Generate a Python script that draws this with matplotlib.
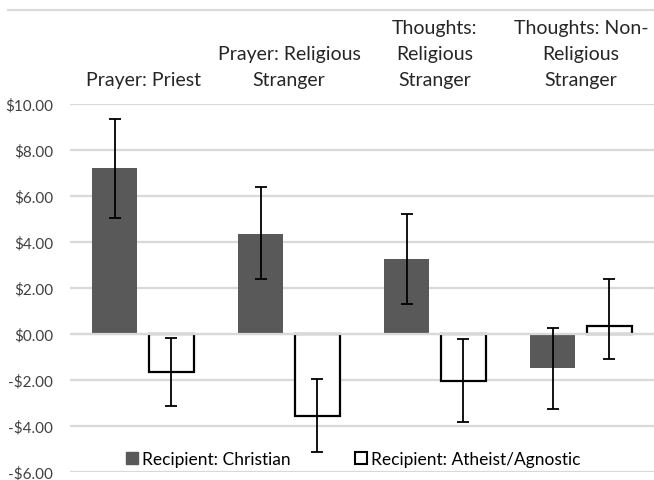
import numpy as np
import matplotlib.pyplot as plt
from matplotlib.patches import Patch
from matplotlib.lines import Line2D

plt.rcParams['font.family'] = ['Lato', 'DejaVu Sans']

categories = ['Prayer: Priest', 'Prayer: Religious\nStranger',
              'Thoughts:\nReligious\nStranger', 'Thoughts: Non-\nReligious\nStranger']
christian = [7.20, 4.35, 3.26, -1.49]
christian_hi = [9.33, 6.37, 5.23, 0.25]
christian_lo = [5.03, 2.38, 1.30, -3.26]
atheist = [-1.67, -3.55, -2.03, 0.35]
atheist_hi = [-0.16, -1.94, -0.22, 2.41]
atheist_lo = [-3.11, -5.11, -3.81, -1.07]
yticks = [10, 8, 6, 4, 2, 0, -2, -4, -6]

fig = plt.figure(figsize=(6.54, 4.81), dpi=100)
ax = fig.add_axes([70 / 654, 1 - 473 / 481, 584 / 654, 368 / 481])

x = np.arange(len(categories))
w = 0.31
off = 0.195

c = np.array(christian)
a = np.array(atheist)
ax.bar(x - off, c, w, color='#595959', zorder=2)
ax.bar(x + off, a, w, facecolor='white', edgecolor='black', linewidth=1.6, zorder=2)

ax.errorbar(x - off, c, yerr=[c - np.array(christian_lo), np.array(christian_hi) - c],
            fmt='none', ecolor='black', elinewidth=1.3, capsize=4.5, capthick=1.3, zorder=3)
ax.errorbar(x + off, a, yerr=[a - np.array(atheist_lo), np.array(atheist_hi) - a],
            fmt='none', ecolor='black', elinewidth=1.3, capsize=4.5, capthick=1.3, zorder=3)

ax.axhline(0, color='#d9d9d9', linewidth=1.6, zorder=2.5)

ax.set_xlim(-0.5, len(categories) - 0.5)
ax.set_ylim(-6, 10)
ax.set_yticks(yticks)
ax.set_yticklabels([('-$%.2f' % -v) if v < 0 else ('$%.2f' % v) for v in yticks],
                   fontsize=11, color='#404040')
ax.tick_params(axis='y', length=0, pad=12)
ax.set_xticks([])
ax.grid(axis='y', color='#d9d9d9', linewidth=1.6, zorder=0)
ax.set_axisbelow(True)
for s in ax.spines.values():
    s.set_visible(False)

for i, lab in enumerate(categories):
    ax.text(x[i], 10.7, lab, ha='center', va='bottom', fontsize=14,
            color='#262626', linespacing=1.65)

handles = [Patch(facecolor='#595959', edgecolor='#595959', label='Recipient: Christian'),
           Patch(facecolor='white', edgecolor='black', linewidth=1.5,
                 label='Recipient: Atheist/Agnostic')]
ax.legend(handles=handles, loc='lower center', bbox_to_anchor=(0.485, -0.005), ncol=2,
          frameon=False, fontsize=12.5, handlelength=0.7, handleheight=0.7,
          handletextpad=0.25, columnspacing=3.7, borderaxespad=0.0)

fig.add_artist(Line2D([8 / 654, 1], [1 - 11 / 481, 1 - 11 / 481], color='#d9d9d9',
                      linewidth=1.5, transform=fig.transFigure))

fig.savefig('out.png', dpi=100)
